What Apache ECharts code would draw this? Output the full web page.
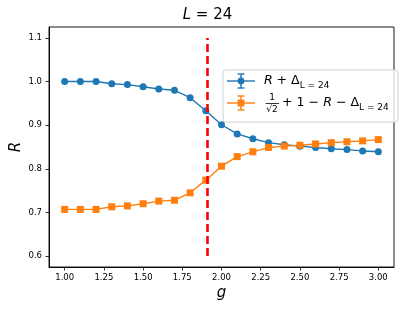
<!DOCTYPE html>
<html><head><meta charset="utf-8">
<script src="https://cdn.jsdelivr.net/npm/echarts@6/dist/echarts.min.js"></script>
<style>html,body{margin:0;padding:0;background:#fff}#c{width:415px;height:311px}</style>
</head><body><div id="c"></div>
<script>
const gValues = [1.0,1.1,1.2,1.3,1.4,1.5,1.6,1.7,1.8,1.9,2.0,2.1,2.2,2.3,2.4,2.5,2.6,2.7,2.8,2.9,3.0];
const seriesA = [1.000,1.000,1.000,0.995,0.993,0.988,0.983,0.980,0.963,0.933,0.901,0.880,0.869,0.860,0.855,0.852,0.849,0.846,0.844,0.841,0.839];
const seriesB = [0.707,0.707,0.707,0.713,0.715,0.720,0.726,0.728,0.745,0.774,0.806,0.828,0.839,0.849,0.852,0.854,0.857,0.860,0.862,0.864,0.867];
const xTicks = [1.00,1.25,1.50,1.75,2.00,2.25,2.50,2.75,3.00];
const yTicks = [0.6,0.7,0.8,0.9,1.0,1.1];
const gCritical = 1.91;
const vLineRange = [0.6, 1.1];

const BLUE = '#1f77b4', ORANGE = '#ff7f0e';
const FONT = 'DejaVu Sans';
const chart = echarts.init(document.getElementById('c'), null, {renderer:'canvas'});

const legendX = 223, legendY = 70;
const sub = {fontFamily: FONT, fontSize: 9, verticalAlign: 'bottom', lineHeight: 18, padding:[0,0,0,0]};
const mainRich = {
  i: {fontFamily: FONT, fontStyle: 'italic', fontSize: 12.6, lineHeight: 18},
  n: {fontFamily: FONT, fontSize: 12.6, lineHeight: 18},
  s: sub
};
function legendIcon(cx, cy, color, symbol) {
  const els = [
    {type:'line', shape:{x1:cx-14, y1:cy, x2:cx+14, y2:cy}, style:{stroke:color, lineWidth:1.4}},
    {type:'line', shape:{x1:cx, y1:cy-7, x2:cx, y2:cy+7}, style:{stroke:color, lineWidth:1.4}},
    {type:'line', shape:{x1:cx-3.5, y1:cy-7, x2:cx+3.5, y2:cy-7}, style:{stroke:color, lineWidth:1.4}},
    {type:'line', shape:{x1:cx-3.5, y1:cy+7, x2:cx+3.5, y2:cy+7}, style:{stroke:color, lineWidth:1.4}}
  ];
  if (symbol === 'circle') els.push({type:'circle', shape:{cx:cx, cy:cy, r:3.4}, style:{fill:color}});
  else els.push({type:'rect', shape:{x:cx-3.4, y:cy-3.4, width:6.8, height:6.8}, style:{fill:color}});
  return els;
}

chart.setOption({
  animation: false,
  backgroundColor: '#fff',
  title: {
    text: '{i|L} = 24', left: 'center', top: 3,
    textStyle: {fontFamily: FONT, fontSize: 15, fontWeight: 'normal', color: '#000',
      rich: {i: {fontFamily: FONT, fontStyle: 'italic', fontSize: 15, color:'#000'}}}
  },
  grid: {left: 49, right: 21, top: 27, bottom: 44, show: true, borderColor: '#000', borderWidth: 0.9,
         backgroundColor: 'transparent', outerBoundsMode: 'none', containLabel: false},
  xAxis: {
    type: 'value', min: 0.9, max: 3.1,
    name: 'g', nameLocation: 'middle', nameGap: 19, nameMoveOverlap: false,
    nameTextStyle: {fontFamily: FONT, fontStyle: 'italic', fontSize: 15, color: '#000'},
    axisLine: {show: true, lineStyle: {color: '#000', width: 0.9}},
    axisTick: {show: true, length: 3.5, lineStyle: {color: '#000', width: 0.8}, customValues: xTicks},
    axisLabel: {fontFamily: FONT, fontSize: 8.5, color: '#000', margin: 6, customValues: xTicks, formatter: v => v.toFixed(2)},
    splitLine: {show: false}
  },
  yAxis: {
    type: 'value', min: 0.575, max: 1.125,
    name: 'R', nameLocation: 'middle', nameGap: 25, nameRotate: 90, nameMoveOverlap: false,
    nameTextStyle: {fontFamily: FONT, fontStyle: 'italic', fontSize: 15, color: '#000'},
    axisLine: {show: true, lineStyle: {color: '#000', width: 0.9}},
    axisTick: {show: true, length: 3.5, lineStyle: {color: '#000', width: 0.8}, customValues: yTicks},
    axisLabel: {fontFamily: FONT, fontSize: 8.5, color: '#000', margin: 7, customValues: yTicks, formatter: v => v.toFixed(1)},
    splitLine: {show: false}
  },
  series: [
    {
      type: 'line', data: gValues.map((g, i) => [g, seriesA[i]]),
      symbol: 'circle', symbolSize: 7, itemStyle: {color: BLUE}, lineStyle: {color: BLUE, width: 1.4}, z: 3
    },
    {
      type: 'line', data: gValues.map((g, i) => [g, seriesB[i]]),
      symbol: 'rect', symbolSize: 7, itemStyle: {color: ORANGE}, lineStyle: {color: ORANGE, width: 1.4}, z: 3,
      markLine: {
        silent: true, symbol: 'none', label: {show: false},
        lineStyle: {color: '#ff0000', width: 2.6, type: [8, 4]},
        data: [[{coord: [gCritical, vLineRange[0]]}, {coord: [gCritical, vLineRange[1]]}]]
      }
    }
  ],
  graphic: [
    {type: 'rect', z: 100, shape: {x: legendX, y: legendY, width: 175, height: 52, r: 3},
     style: {fill: 'rgba(255,255,255,0.8)', stroke: '#d0d0d0', lineWidth: 1}},
    ...legendIcon(241, 81, BLUE, 'circle').map(e => Object.assign(e, {z: 101})),
    ...legendIcon(241, 103, ORANGE, 'rect').map(e => Object.assign(e, {z: 101})),
    {type: 'text', z: 101, x: 264, y: 81,
     style: {text: '{i|R} {n|+ Δ}{s|L = 24}', rich: mainRich, verticalAlign: 'middle', fill: '#000', fontFamily: FONT}},
    {type: 'text', z: 101, x: 272, y: 98,
     style: {text: '1', fontFamily: FONT, fontSize: 9, fill: '#000', align: 'center', verticalAlign: 'middle'}},
    {type: 'line', z: 101, shape: {x1: 265.5, y1: 103.5, x2: 279, y2: 103.5}, style: {stroke: '#000', lineWidth: 0.8}},
    {type: 'text', z: 101, x: 272, y: 109.5,
     style: {text: '√2', fontFamily: FONT, fontSize: 9, fill: '#000', align: 'center', verticalAlign: 'middle'}},
    {type: 'text', z: 101, x: 282, y: 103,
     style: {text: '{n|+ 1 − }{i|R}{n| − Δ}{s|L = 24}', rich: mainRich, verticalAlign: 'middle', fill: '#000', fontFamily: FONT}}
  ]
});
</script></body></html>
